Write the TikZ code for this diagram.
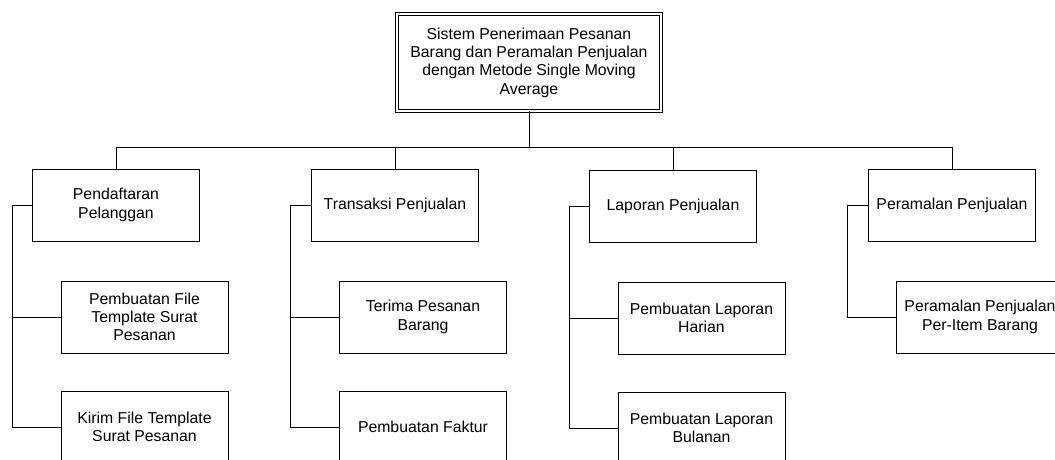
\documentclass[tikz,border=0pt]{standalone}
\usepackage{fontspec}
\setmainfont{Liberation Sans}
\begin{document}
\begin{tikzpicture}[x=1pt,y=-1pt,
  every node/.style={font=\fontsize{15.8}{18.3}\selectfont, align=center, inner sep=0pt},
  box/.style={draw, line width=0.9pt, minimum width=167pt, minimum height=72pt},
  rootbox/.style={draw, line width=0.8pt, double, double distance=2pt, minimum width=264pt, minimum height=97pt},
  link/.style={line width=0.9pt}]
\useasboundingbox (0,0) rectangle (1055,459);
% root of the hierarchy
\node[rootbox] (root) at (529,62.5) {Sistem Penerimaan Pesanan\\Barang dan Peramalan Penjualan\\dengan Metode Single Moving\\Average};
% first level
\node[box] (p1) at (116,205) {Pendaftaran\\Pelanggan};
\node[box] (p2) at (395,205) {Transaksi Penjualan};
\node[box] (p3) at (673,206) {Laporan Penjualan};
\node[box] (p4) at (952,205) {Peramalan Penjualan};
% second level
\node[box] (p1a) at (144.5,317) {Pembuatan File\\Template Surat\\Pesanan};
\node[box] (p1b) at (144.5,427) {Kirim File Template\\Surat Pesanan};
\node[box] (p2a) at (423,317) {Terima Pesanan\\Barang};
\node[box] (p2b) at (423,427) {Pembuatan Faktur};
\node[box] (p3a) at (701.5,318) {Pembuatan Laporan\\Harian};
\node[box] (p3b) at (701.5,428) {Pembuatan Laporan\\Bulanan};
\node[box] (p4a) at (980,317) {Peramalan Penjualan\\Per-Item Barang};
% bus from the root to the first level
\coordinate (bus) at (529,147);
\draw[link] (root.south) -- (bus);
\draw[link] (p1.north) -- (p1.north |- bus) -- (p4.north |- bus) -- (p4.north);
\draw[link] (p2.north) -- (p2.north |- bus);
\draw[link] (p3.north) -- (p3.north |- bus);
% side rails to the second level
\coordinate (s1) at ([xshift=-20pt]p1.west);
\coordinate (s2) at ([xshift=-21pt]p2.west);
\coordinate (s3) at ([xshift=-20pt]p3.west);
\coordinate (s4) at ([xshift=-21pt]p4.west);
\draw[link] (p1.west) -- (s1) |- (p1b.west);
\draw[link] (p1a.west) -- (p1a.west -| s1);
\draw[link] (p2.west) -- (s2) |- (p2b.west);
\draw[link] (p2a.west) -- (p2a.west -| s2);
\draw[link] (p3.west) -- (s3) |- (p3b.west);
\draw[link] (p3a.west) -- (p3a.west -| s3);
\draw[link] (p4.west) -- (s4) |- (p4a.west);
\end{tikzpicture}
\end{document}
